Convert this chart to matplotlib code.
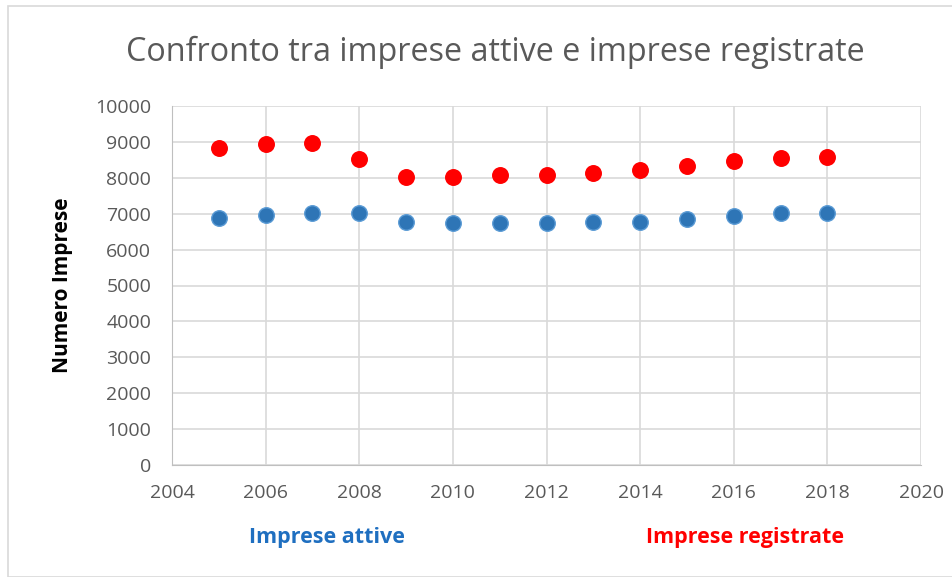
import matplotlib.pyplot as plt
from matplotlib.patches import Rectangle

plt.rcParams["font.family"] = ["Open Sans", "DejaVu Sans"]

years = [2005, 2006, 2007, 2008, 2009, 2010, 2011, 2012, 2013, 2014, 2015, 2016, 2017, 2018]
attive = [6880, 6950, 7030, 7030, 6760, 6740, 6740, 6740, 6780, 6780, 6840, 6940, 7030, 7030]
registrate = [8820, 8940, 8980, 8530, 8020, 8020, 8070, 8070, 8135, 8210, 8320, 8475, 8540, 8585]

xticks = list(range(2004, 2021, 2))
yticks = list(range(0, 10001, 1000))

fig = plt.figure(figsize=(9.53, 5.77), dpi=100)
fig.patches.append(Rectangle((8 / 953, 0), 1, 1 - 6 / 577, transform=fig.transFigure,
                             facecolor="white", edgecolor="#d9d9d9", linewidth=1.2,
                             zorder=-10))

ax = fig.add_axes([172 / 953, 1 - 465 / 577, 749 / 953, 359 / 577])
ax.set_facecolor("none")

ax.scatter(years, attive, s=125, color="#2e75b6", edgecolors="#5b9bd5", linewidths=1, zorder=3)
ax.scatter(years, registrate, s=125, color="#ff0000", edgecolors="#ff0000", linewidths=1, zorder=3)

ax.set_xlim(2004, 2020)
ax.set_ylim(0, 10000)
ax.set_xticks(xticks)
ax.set_yticks(yticks)
ax.grid(True, color="#d9d9d9", linewidth=1.2)
ax.set_axisbelow(True)
for side in ["top", "right"]:
    ax.spines[side].set_visible(False)
ax.spines["left"].set_color("#bfbfbf")
ax.spines["bottom"].set_color("#bfbfbf")
ax.tick_params(length=0, labelsize=14, labelcolor="#595959")
ax.tick_params(axis="y", pad=15)
ax.tick_params(axis="x", pad=14)

ax.set_ylabel("Numero Imprese", fontsize=15, fontweight="bold", labelpad=16)

fig.text(495 / 953, 1 - 52 / 577, "Confronto tra imprese attive e imprese registrate",
         ha="center", va="center", fontsize=23.3, color="#595959")
fig.text(327 / 953, 1 - 537 / 577, "Imprese attive", ha="center", va="center",
         fontsize=15.5, fontweight="bold", color="#1f6fc0")
fig.text(745 / 953, 1 - 537 / 577, "Imprese registrate", ha="center", va="center",
         fontsize=15.5, fontweight="bold", color="#ff0000")

fig.savefig("out.png", dpi=100)
